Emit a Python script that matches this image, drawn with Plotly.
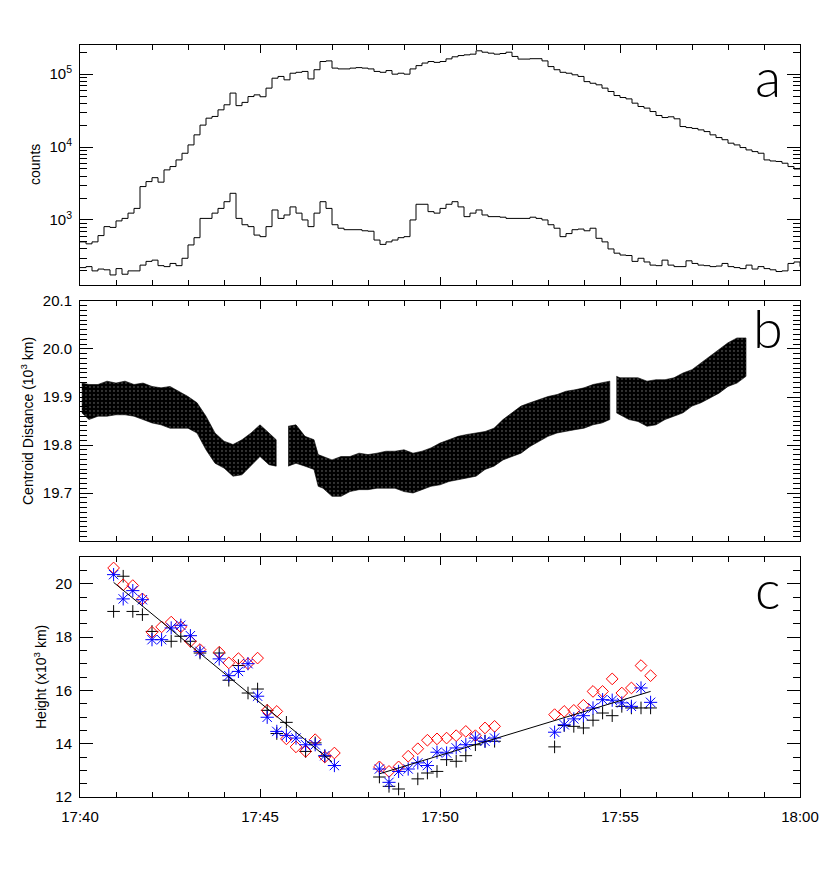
import pandas as pd
import plotly.graph_objects as go

T0 = pd.Timestamp("2011-02-24 17:40:00")

# ---- panel a: light curves, 10 s bins from 17:40:00 ----
bin_sec = list(range(0, 1210, 10))
counts_high = [
    500, 470, 500, 610, 810, 790, 970, 1050, 1240, 1440,
    2870, 3360, 3800, 3300, 4860, 5400, 6660, 8220, 10700, 14700,
    20000, 24900, 26300, 32400, 38000, 55000, 37000, 41000, 49300, 52000,
    49000, 64300, 88000, 93000, 83600, 103000, 106000, 109000, 86000, 115000,
    149000, 152000, 121000, 118000, 118000, 121000, 123000, 121000, 118000, 109000,
    106000, 112000, 100000, 103000, 100000, 118000, 131000, 142000, 149000, 145000,
    149000, 162000, 173000, 180000, 184000, 188000, 209000, 200000, 194000, 188000,
    192000, 200000, 175000, 161000, 161000, 163000, 163000, 152000, 127000, 115000,
    106000, 103000, 98000, 93000, 79000, 75000, 71400, 64300, 57800, 50900,
    47800, 45800, 40000, 36000, 34200, 30700, 27100, 25400, 26000, 24400,
    19100, 18500, 18000, 17200, 16300, 14700, 13500, 12600, 11300, 10700,
    9840, 9130, 8660, 8230, 6660, 6440, 6340, 6000, 5400, 5000,
    5200,
]
counts_low = [
    222, 229, 200, 212, 207, 176, 215, 180, 200, 200,
    240, 270, 281, 236, 229, 253, 236, 298, 454, 571,
    1050, 1050, 1240, 1440, 1780, 2320, 1050, 860, 810, 620,
    590, 810, 1370, 1050, 1170, 1510, 1240, 1000, 810, 1240,
    1780, 1440, 860, 770, 735, 735, 735, 710, 700, 530,
    462, 500, 530, 571, 590, 1000, 1640, 1640, 1300, 1240,
    1440, 1640, 1780, 1510, 1110, 1240, 1370, 1170, 1110, 1110,
    1090, 1050, 1050, 1050, 1050, 1090, 1050, 1000, 860, 770,
    590, 650, 735, 750, 710, 770, 560, 500, 400, 350,
    330, 325, 270, 298, 265, 240, 236, 281, 240, 229,
    229, 275, 253, 240, 236, 229, 233, 253, 229, 222,
    215, 240, 212, 229, 215, 207, 196, 200, 253, 265,
    229,
]

# ---- panel b: centroid distance band (upper / lower edge of the point cloud) ----
cd_t1 = [3, 15, 30, 45, 60, 75, 90, 105, 120, 135, 150, 165, 180, 195, 210, 225,
         240, 255, 270, 285, 300, 315, 327]
cd_top1 = [19.929, 19.926, 19.926, 19.933, 19.929, 19.933, 19.926, 19.929, 19.922,
           19.919, 19.922, 19.912, 19.901, 19.888, 19.860, 19.825, 19.808, 19.801,
           19.811, 19.825, 19.842, 19.825, 19.811]
cd_bot1 = [19.867, 19.853, 19.860, 19.860, 19.863, 19.863, 19.860, 19.853, 19.846,
           19.842, 19.835, 19.835, 19.835, 19.825, 19.790, 19.762, 19.752, 19.735,
           19.738, 19.756, 19.776, 19.759, 19.756]
cd_t2 = [347, 360, 375, 390, 397, 405, 420, 435, 450, 465, 480, 495, 510, 525, 540,
         555, 570, 585, 600, 615, 630, 645, 660, 675, 690, 705, 720, 735, 750, 765,
         780, 795, 810, 825, 840, 855, 870, 883]
cd_top2 = [19.839, 19.842, 19.818, 19.811, 19.780, 19.776, 19.769, 19.776, 19.776,
           19.783, 19.780, 19.783, 19.787, 19.787, 19.790, 19.783, 19.787, 19.794,
           19.804, 19.811, 19.818, 19.822, 19.825, 19.828, 19.835, 19.853, 19.867,
           19.881, 19.888, 19.894, 19.901, 19.905, 19.912, 19.915, 19.919, 19.926,
           19.929, 19.933]
cd_bot2 = [19.756, 19.762, 19.756, 19.749, 19.714, 19.710, 19.693, 19.693, 19.703,
           19.707, 19.707, 19.710, 19.710, 19.710, 19.703, 19.700, 19.707, 19.714,
           19.717, 19.724, 19.728, 19.731, 19.735, 19.749, 19.756, 19.769, 19.776,
           19.783, 19.797, 19.808, 19.818, 19.825, 19.828, 19.832, 19.835, 19.842,
           19.846, 19.853]
cd_t3 = [894, 900, 915, 930, 945, 960, 975, 990, 1005, 1020, 1035, 1050, 1065,
         1080, 1095, 1110]
cd_top3 = [19.943, 19.940, 19.940, 19.940, 19.933, 19.936, 19.936, 19.940, 19.950,
           19.957, 19.971, 19.985, 19.999, 20.013, 20.023, 20.023]
cd_bot3 = [19.867, 19.863, 19.853, 19.849, 19.839, 19.842, 19.853, 19.860, 19.867,
           19.881, 19.888, 19.898, 19.908, 19.922, 19.929, 19.943]

# ---- panel c: heights (10^3 km) ----
h_sec = [56, 72, 88, 104, 120, 136, 152, 168, 184, 200, 216, 232, 248, 264, 280,
         296, 312, 328, 344, 360, 376, 392, 408, 424,
         499, 515, 531, 547, 563, 579, 595, 611, 627, 643, 659, 675, 691,
         791, 807, 823, 839, 855, 871, 887, 903, 919, 935, 951]
h_red = [20.59, 19.96, 19.93, 19.43, 18.18, 18.38, 18.56, 18.38, 17.84, 17.53, None,
         17.43, 17.03, 17.19, 17.0, 17.21, 15.25, 15.21, 14.18, 13.88, 13.71, 14.15,
         13.5, 13.65,
         13.13, 12.96, 13.13, 13.53, 13.81, 14.13, 14.18, 14.21, 14.3, 14.46, 14.3,
         14.59, 14.65,
         15.09, 15.21, 15.25, 15.44, 15.96, 15.96, 16.43, 15.9, 16.09, 16.93, 16.55]
h_blue = [20.34, 19.43, 19.74, 19.4, 17.9, 17.9, 18.34, 18.44, 18.05, 17.46, None,
          17.18, 16.55, 16.71, 17.0, 15.78, 14.99, 14.46, 14.31, 14.21, 13.96, 13.96,
          13.55, 13.18,
          13.05, 12.55, 12.96, 13.05, 13.28, 13.18, 13.68, 13.65, 13.84, 13.96, 14.21,
          14.09, 14.21,
          14.43, 14.71, 14.93, 15.05, 15.34, 15.65, 15.63, 15.53, 15.4, 16.09, 15.55]
h_black = [18.96, 20.28, 18.96, 18.84, 18.21, None, 17.84, 18.03, 17.84, 17.4, None,
           17.4, 16.38, 16.93, 15.9, 16.05, 15.25, 14.38, 14.8, None, 13.71, 14.03,
           13.53, None,
           12.75, 12.4, 12.3, None, 12.68, 12.9, 12.96, 13.4, 13.34, 13.55, 13.96,
           14.09, 14.09,
           13.88, 14.68, 14.65, 14.59, 14.88, 15.15, 15.05, 15.4, 15.34, 15.34, 15.34]
fit1_sec = [56, 420]
fit1_h = [20.05, 13.32]
fit2_sec = [499, 951]
fit2_h = [12.87, 15.96]

log_major = [1e3, 1e4, 1e5]
log_major_text = ["10<sup>3</sup>", "10<sup>4</sup>", "10<sup>5</sup>"]
log_minor = [200, 300, 400, 500, 600, 700, 800, 900,
             2000, 3000, 4000, 5000, 6000, 7000, 8000, 9000,
             20000, 30000, 40000, 50000, 60000, 70000, 80000, 90000, 200000]
cd_ticks = [19.7, 19.8, 19.9, 20.0, 20.1]


def clock(secs):
    return [T0 + pd.Timedelta(seconds=s) for s in secs]


fig = go.Figure()

for vals in (counts_high, counts_low):
    fig.add_trace(go.Scatter(
        x=clock(bin_sec), y=vals, mode="lines", line=dict(color="black", width=1, shape="hv"),
        xaxis="x", yaxis="y", showlegend=False, hoverinfo="skip"))

for ts, top, bot in ((cd_t1, cd_top1, cd_bot1), (cd_t2, cd_top2, cd_bot2), (cd_t3, cd_top3, cd_bot3)):
    fig.add_trace(go.Scatter(
        x=clock(ts + ts[::-1]), y=top + bot[::-1], mode="lines", fill="toself",
        line=dict(color="black", width=0.6),
        fillcolor="black",
        fillpattern=dict(shape=".", bgcolor="#000000", fgcolor="#ffffff", size=4, solidity=0.1),
        xaxis="x2", yaxis="y2", showlegend=False, hoverinfo="skip"))

fig.add_trace(go.Scatter(
    x=clock(h_sec), y=h_black, mode="markers",
    marker=dict(symbol="cross-thin", size=9, color="black", line=dict(width=1, color="black")),
    xaxis="x3", yaxis="y3", showlegend=False))
fig.add_trace(go.Scatter(
    x=clock(h_sec), y=h_red, mode="markers",
    marker=dict(symbol="diamond-open", size=9, color="red", line=dict(width=1, color="red")),
    xaxis="x3", yaxis="y3", showlegend=False))
fig.add_trace(go.Scatter(
    x=clock(h_sec), y=h_blue, mode="markers",
    marker=dict(symbol="asterisk-open", size=11, color="blue", line=dict(width=1, color="blue")),
    xaxis="x3", yaxis="y3", showlegend=False))
for fs, fh in ((fit1_sec, fit1_h), (fit2_sec, fit2_h)):
    fig.add_trace(go.Scatter(
        x=clock(fs), y=fh, mode="lines", line=dict(color="black", width=1),
        xaxis="x3", yaxis="y3", showlegend=False, hoverinfo="skip"))

frame = dict(showline=True, linecolor="black", linewidth=1, mirror="allticks",
             ticks="inside", tickcolor="black", tickwidth=1, showgrid=False, zeroline=False,
             tickfont=dict(family="Liberation Sans, Arial, sans-serif", size=15, color="black"))
x_range = [T0, T0 + pd.Timedelta(minutes=20)]
xcommon = dict(frame, type="date", range=x_range, tick0=T0, dtick=300000, tickformat="%H:%M",
               ticklen=8, minor=dict(dtick=60000, ticklen=5, ticks="inside", tickcolor="black"))

# the page body adds an 8 px offset, so the figure is made 8 px smaller on each side
fig.update_layout(
    width=822, height=870,
    margin=dict(l=72, r=30, t=37, b=81),
    paper_bgcolor="white", plot_bgcolor="white",
    xaxis=dict(xcommon, anchor="y", showticklabels=False),
    xaxis2=dict(xcommon, anchor="y2", matches="x", showticklabels=False),
    xaxis3=dict(xcommon, anchor="y3", matches="x", showticklabels=True, ticklabelstandoff=6),
    yaxis=dict(frame, type="log", range=[2.108, 5.40], domain=[0.6809, 1.0],
               tickmode="array", tickvals=log_major, ticktext=log_major_text, ticklen=13,
               ticklabelstandoff=4,
               minor=dict(tickmode="array", tickvals=log_minor, ticklen=7, ticks="inside",
                          tickcolor="black")),
    yaxis2=dict(frame, range=[19.6, 20.1], domain=[0.3404, 0.6596],
                tickmode="array", tickvals=cd_ticks, ticktext=[f"{v:.1f}" for v in cd_ticks],
                ticklen=13, ticklabelstandoff=4,
                minor=dict(tickmode="linear", tick0=19.6, dtick=0.01, ticklen=7, ticks="inside",
                           tickcolor="black")),
    yaxis3=dict(frame, range=[12, 21], domain=[0.0, 0.3191], tick0=12, dtick=2, ticklen=13,
                ticklabelstandoff=4,
                minor=dict(dtick=0.5, ticklen=7, ticks="inside", tickcolor="black")),
)

title_font = dict(family="Liberation Sans, Arial, sans-serif", size=14, color="black")
letter_font = dict(family="Lato Light, Roboto Light, Lato, sans-serif", size=54, color="black")
for yref, label, xpos in (("y domain", "counts", -0.0625),
                          ("y2 domain", "Centroid Distance (10<sup>3</sup> km)", -0.0736),
                          ("y3 domain", "Height (x10<sup>3</sup> km)", -0.0556)):
    fig.add_annotation(xref="paper", yref=yref, x=xpos, y=0.5, text=label, textangle=-90,
                       showarrow=False, xanchor="center", yanchor="middle", font=title_font)
for yref, letter, ypos in (("y domain", "a", 0.87), ("y2 domain", "b", 0.89), ("y3 domain", "c", 0.87)):
    fig.add_annotation(xref="paper", yref=yref, x=0.955, y=ypos, text=letter, showarrow=False,
                       xanchor="center", yanchor="middle", font=letter_font)

fig.write_html("out.html")
